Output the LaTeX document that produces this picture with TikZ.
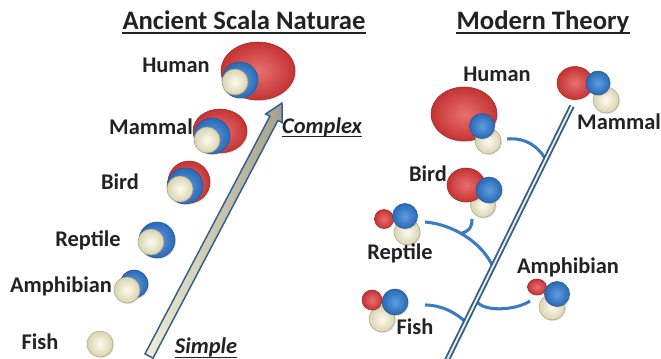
\documentclass[tikz,border=0pt]{standalone}
\usepackage{fontspec}
\setmainfont{Carlito}
\usetikzlibrary{calc,shadows}
\definecolor{txt}{HTML}{222222}
\definecolor{redin}{HTML}{E87070}
\definecolor{redout}{HTML}{C53333}
\definecolor{redline}{HTML}{A52828}
\definecolor{bluein}{HTML}{5E9DE2}
\definecolor{blueout}{HTML}{2A69B4}
\definecolor{blueline}{HTML}{22579A}
\definecolor{creamin}{HTML}{FDFBEE}
\definecolor{creamout}{HTML}{DAD4B2}
\definecolor{creamline}{HTML}{ADA584}
\definecolor{lineblue}{HTML}{2F5F93}
\definecolor{branchblue}{HTML}{3B7BC0}
\definecolor{shaftA}{HTML}{F2EED6}
\definecolor{shaftB}{HTML}{A4A08A}
\begin{document}
\begin{tikzpicture}[x=0.75pt,y=-0.75pt,
  lbl/.style={font=\fontsize{16.8}{19}\selectfont\bfseries, text=txt, inner sep=0, anchor=base},
  ilbl/.style={font=\fontsize{16.8}{19}\selectfont\bfseries\itshape, text=txt, inner sep=0, anchor=base},
  ttl/.style={font=\fontsize{20}{23}\selectfont\bfseries, text=txt, inner sep=0, anchor=base},
  shd/.style={drop shadow={opacity=0.25, shadow xshift=0.8pt, shadow yshift=-0.8pt}},
  rb/.style={inner color=redin, outer color=redout, draw=redline, line width=0.4pt, shd},
  bb/.style={inner color=bluein, outer color=blueout, draw=blueline, line width=0.4pt, shd},
  cb/.style={inner color=creamin, outer color=creamout, draw=creamline, line width=0.4pt, shd},
  uline/.style={txt, line width=1.4pt},
  branch/.style={branchblue, line width=2.3pt},
  mainline/.style={lineblue, line width=1.4pt, double=shaftA, double distance=1.4pt}
]
\useasboundingbox (0,0) rectangle (661,359);

% ---------- Titles ----------
\node[ttl] (t1) at (244,30) {Ancient Scala Naturae};
\draw[uline] ([yshift=-2.4pt]t1.base west) -- ([yshift=-2.4pt]t1.base east);
\node[ttl] (t2) at (543,30) {Modern Theory};
\draw[uline] ([yshift=-2.4pt]t2.base west) -- ([yshift=-2.4pt]t2.base east);

% ---------- Left: arrow ----------
\coordinate (A) at (149,356);
\coordinate (T) at (282,103);
\coordinate (B) at ($(T)!13pt!(A)$);
\shadedraw[left color=shaftA, right color=shaftB, draw=lineblue, line width=1.1pt, line join=miter]
  ($(A)!3.4pt!90:(T)$) -- ($(B)!3.4pt!-90:(A)$) -- ($(B)!7pt!-90:(A)$) -- (T)
  -- ($(B)!7pt!90:(A)$) -- ($(B)!3.4pt!90:(A)$) -- ($(A)!3.4pt!-90:(T)$) -- cycle;

% ---------- Left: organisms ----------
% Human
\shadedraw[rb] (258,71) ellipse [x radius=37, y radius=29];
\shadedraw[bb] (240,80) circle [radius=18];
\shadedraw[cb] (235,82) circle [radius=13];
\node[lbl] (lh) at (176,73) {Human};
% Mammal
\shadedraw[rb] (220,131) ellipse [x radius=27, y radius=22];
\shadedraw[bb] (212,136) circle [radius=18];
\shadedraw[cb] (207,140) circle [radius=13];
\node[lbl] (lm) at (151,135) {Mammal};
% Bird
\shadedraw[rb] (189,182) circle [radius=21];
\shadedraw[bb] (185,186) circle [radius=18];
\shadedraw[cb] (180,189) circle [radius=13];
\node[lbl] (lb) at (120,190) {Bird};
% Reptile
\shadedraw[bb] (157,240) circle [radius=18];
\shadedraw[cb] (151,242) circle [radius=13];
\node[lbl] (lr) at (88,247) {Reptile};
% Amphibian
\shadedraw[bb] (134,284) circle [radius=14];
\shadedraw[cb] (127,290) circle [radius=13];
\node[lbl] (la) at (61,293) {Amphibian};
% Fish
\shadedraw[cb] (100,344) circle [radius=13];
\node[lbl] (lf) at (40,350) {Fish};

\node[ilbl] (cx) at (322,134) {Complex};
\draw[txt, line width=1pt] ([yshift=-2pt]cx.base west) -- ([yshift=-2pt]cx.base east);
\node[ilbl] (sp) at (206,354) {Simple};
\draw[txt, line width=1pt] ([yshift=-2.6pt]sp.base west) -- ([yshift=-2.6pt]sp.base east);

% ---------- Right: main line and branches ----------
\coordinate (M1) at (446,362);
\coordinate (M2) at (572,106);
\coordinate (hS) at (507,139);
\coordinate (hE) at ($(M1)!0.790!(M2)$);
\coordinate (rS) at (425,222);
\coordinate (rE) at ($(M1)!0.372!(M2)$);
\coordinate (bS) at (472,219);
\coordinate (bE) at (462,233);
\coordinate (aE) at (530,301);
\coordinate (aS) at ($(M1)!0.24!(M2)$);
\coordinate (fS) at (425,305);
\coordinate (fE) at ($(M1)!0.156!(M2)$);

\draw[branch] (hS) .. controls (526,137) and (540,148) .. (hE);
\draw[branch] (rS) .. controls (452,224) and (482,242) .. (rE);
\draw[branch] (bS) .. controls (472,228) and (469,231) .. (bE);
\draw[branch] (aS) .. controls (482,312) and (515,311) .. (aE);
\draw[branch] (fS) .. controls (441,305) and (455,312) .. (fE);
\draw[mainline] (M1) -- (M2);

% ---------- Right: organisms ----------
% Human
\shadedraw[rb] (464,114) ellipse [x radius=33, y radius=27];
\shadedraw[cb] (488,141) circle [radius=13];
\shadedraw[bb] (482,126) circle [radius=12.5];
\node[lbl] (rh) at (497,82) {Human};
% Mammal
\shadedraw[cb] (606,100) circle [radius=13];
\shadedraw[rb] (575,83) ellipse [x radius=18, y radius=16.5];
\shadedraw[bb] (598,83) circle [radius=12];
\node[lbl] (rm) at (619,130) {Mammal};
% Bird
\shadedraw[cb] (483,205) circle [radius=12.5];
\shadedraw[rb] (466,185) ellipse [x radius=19, y radius=17];
\shadedraw[bb] (489,190) circle [radius=13];
\node[lbl] (rbd) at (428,182) {Bird};
% Reptile
\shadedraw[cb] (407,232) circle [radius=13];
\shadedraw[rb] (384,219) circle [radius=9.5];
\shadedraw[bb] (405,216) circle [radius=12.5];
\node[lbl] (rr) at (400,260) {Reptile};
% Amphibian
\shadedraw[cb] (552,307) circle [radius=13];
\shadedraw[rb] (537,287) ellipse [x radius=9.5, y radius=8];
\shadedraw[bb] (557,294) circle [radius=12.5];
\node[lbl] (ra) at (568,274) {Amphibian};
% Fish
\shadedraw[cb] (382,319) circle [radius=13];
\shadedraw[rb] (372,300) circle [radius=10];
\shadedraw[bb] (395,302) circle [radius=13];
\node[lbl] (rf) at (415,335) {Fish};
\end{tikzpicture}
\end{document}
